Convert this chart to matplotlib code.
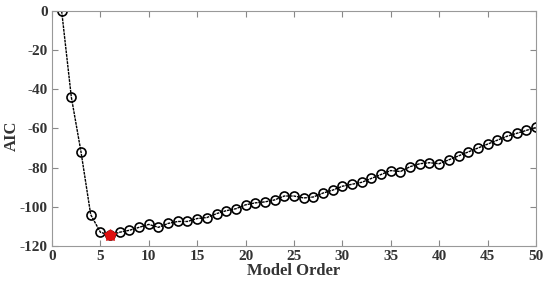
import numpy as np
from matplotlib import pyplot as plt

order = np.arange(1, 51)
aic = [0, -44, -72, -104, -113, -114.5, -113, -112, -110.5, -109,
       -110.5, -108.5, -107.5, -107.5, -106, -105.5, -103.5, -102, -101, -99,
       -98, -97.5, -96.5, -94.5, -94.5, -95.5, -95, -93, -91.5, -89.5,
       -88.5, -87.5, -85.5, -83.5, -81.5, -82, -79.5, -78, -77.5, -78,
       -76, -74, -72, -70, -68, -66, -64, -62.5, -61, -59.5]
best = 6

plt.rcParams["font.family"] = ["Liberation Serif", "DejaVu Serif"]
plt.rcParams["font.weight"] = "bold"
plt.rcParams["axes.unicode_minus"] = False

fig = plt.figure(figsize=(5.5, 2.89), dpi=100)
ax = fig.add_axes([0.0945, 0.149, 0.88, 0.813])

ax.plot(order, aic, color="k", linestyle="--", dashes=(2, 0.6), linewidth=1.0,
        marker="o", markersize=6.5, markerfacecolor="none",
        markeredgecolor="k", markeredgewidth=1.2)
ax.plot([best], [aic[best - 1]], marker="o", markersize=6.5, color="#e01010",
        markeredgecolor="#e01010")
ax.plot([best], [aic[best - 1]], marker="*", markersize=9, color="#e01010",
        markeredgecolor="#e01010")

ax.set_xlim(0, 50)
ax.set_ylim(-120, 0)
ax.set_xticks(np.arange(0, 51, 5))
ax.set_yticks(np.arange(-120, 1, 20))
ax.tick_params(direction="in", length=4, color="#888888", labelsize=11,
               top=True, right=True, pad=3)
for lab in ax.get_xticklabels() + ax.get_yticklabels():
    lab.set_fontweight("bold")
    lab.set_color("#333333")
for s in ax.spines.values():
    s.set_color("#999999")
    s.set_linewidth(0.8)

ax.set_xlabel("Model Order", fontsize=12, fontweight="bold", color="#333333",
              labelpad=0)
ax.set_ylabel("AIC", fontsize=12, fontweight="bold", color="#333333")
ax.yaxis.set_label_coords(-0.066, 0.47)

fig.savefig("out.png", dpi=100)
